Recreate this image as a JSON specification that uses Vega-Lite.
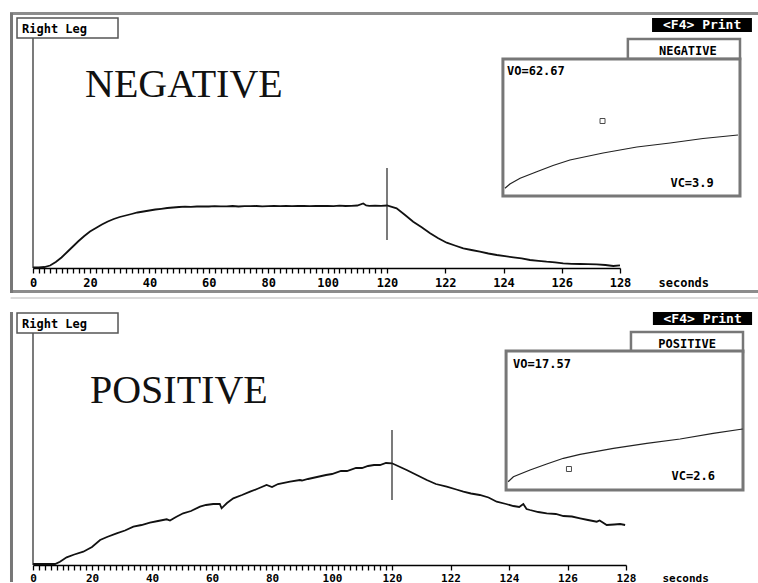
{
  "$schema": "https://vega.github.io/schema/vega-lite/v6.json",
  "padding": 0,
  "bounds": "flush",
  "spacing": 4,
  "background": "white",
  "config": {"view": {"stroke": null}},
  "datasets": {
    "neg": [
      {"t":0,"v":0.05},{"t":2,"v":0.05},{"t":4,"v":0.1},{"t":6,"v":0.25},{"t":8,"v":0.6},{"t":10,"v":1.05},{"t":12,"v":1.6},{"t":14,"v":2.15},{"t":16,"v":2.7},{"t":18,"v":3.2},{"t":20,"v":3.65},{"t":22,"v":4.0},{"t":24,"v":4.35},{"t":26,"v":4.65},{"t":28,"v":4.9},{"t":30,"v":5.1},{"t":32,"v":5.25},{"t":34,"v":5.4},{"t":36,"v":5.55},{"t":38,"v":5.65},{"t":40,"v":5.75},{"t":42,"v":5.85},{"t":44,"v":5.92},{"t":46,"v":6.0},{"t":48,"v":6.05},{"t":50,"v":6.1},{"t":52,"v":6.13},{"t":54,"v":6.12},{"t":56,"v":6.15},{"t":58,"v":6.16},{"t":60,"v":6.15},{"t":62,"v":6.18},{"t":64,"v":6.16},{"t":66,"v":6.17},{"t":68,"v":6.2},{"t":70,"v":6.15},{"t":72,"v":6.19},{"t":74,"v":6.18},{"t":76,"v":6.2},{"t":78,"v":6.17},{"t":80,"v":6.19},{"t":82,"v":6.2},{"t":84,"v":6.18},{"t":86,"v":6.21},{"t":88,"v":6.18},{"t":90,"v":6.2},{"t":92,"v":6.22},{"t":94,"v":6.18},{"t":96,"v":6.21},{"t":98,"v":6.2},{"t":100,"v":6.22},{"t":102,"v":6.19},{"t":104,"v":6.23},{"t":106,"v":6.2},{"t":108,"v":6.22},{"t":110,"v":6.25},{"t":112,"v":6.45},{"t":113,"v":6.25},{"t":114,"v":6.22},{"t":116,"v":6.24},{"t":118,"v":6.22},{"t":120,"v":6.25},
      {"t":120.33,"v":5.97},{"t":120.62,"v":5.3},{"t":120.9,"v":4.63},{"t":121.19,"v":4.07},{"t":121.48,"v":3.47},{"t":121.76,"v":2.97},{"t":122.05,"v":2.53},{"t":122.33,"v":2.25},{"t":122.62,"v":1.97},{"t":122.9,"v":1.8},{"t":123.19,"v":1.63},{"t":123.48,"v":1.45},{"t":123.77,"v":1.3},{"t":124.05,"v":1.18},{"t":124.34,"v":1.07},{"t":124.62,"v":0.97},{"t":124.91,"v":0.8},{"t":125.2,"v":0.72},{"t":125.48,"v":0.63},{"t":125.77,"v":0.56},{"t":126.05,"v":0.47},{"t":126.34,"v":0.42},{"t":126.63,"v":0.4},{"t":126.9,"v":0.38},{"t":127.2,"v":0.37},{"t":127.5,"v":0.3},{"t":127.77,"v":0.2},{"t":128.0,"v":0.27}
    ],
    "pos": [
      {"t":0,"v":0.1},{"t":2,"v":0.1},{"t":4,"v":0.12},{"t":6,"v":0.1},{"t":7.5,"v":0.1},{"t":9.15,"v":0.33},{"t":11.4,"v":0.77},{"t":14,"v":1.05},{"t":17.05,"v":1.33},{"t":20,"v":1.8},{"t":22.7,"v":2.5},{"t":25,"v":2.8},{"t":28.2,"v":3.17},{"t":31,"v":3.45},{"t":33.8,"v":3.83},{"t":36.5,"v":4.0},{"t":39.3,"v":4.23},{"t":42,"v":4.4},{"t":44.9,"v":4.57},{"t":46,"v":4.45},{"t":48,"v":4.8},{"t":50.4,"v":5.17},{"t":53,"v":5.4},{"t":56,"v":5.83},{"t":58,"v":6.0},{"t":60.4,"v":6.1},{"t":62.6,"v":6.1},{"t":63.2,"v":5.67},{"t":65,"v":6.2},{"t":67.1,"v":6.67},{"t":70,"v":7.0},{"t":72.7,"v":7.33},{"t":75,"v":7.6},{"t":78.2,"v":8.0},{"t":80,"v":7.8},{"t":82,"v":8.1},{"t":86,"v":8.33},{"t":89.3,"v":8.5},{"t":90,"v":8.45},{"t":92,"v":8.6},{"t":95,"v":8.8},{"t":98,"v":9.0},{"t":100,"v":9.1},{"t":103,"v":9.4},{"t":105,"v":9.4},{"t":108,"v":9.7},{"t":110,"v":9.7},{"t":112,"v":9.9},{"t":114,"v":10.0},{"t":116,"v":10.0},{"t":118,"v":10.2},{"t":120,"v":10.17},
      {"t":120.5,"v":9.5},{"t":121.19,"v":8.5},{"t":121.5,"v":8.1},{"t":121.87,"v":7.83},{"t":122.2,"v":7.55},{"t":122.44,"v":7.33},{"t":122.7,"v":7.15},{"t":123.0,"v":7.0},{"t":123.3,"v":6.75},{"t":123.58,"v":6.33},{"t":123.9,"v":6.1},{"t":124.15,"v":5.9},{"t":124.35,"v":5.8},{"t":124.49,"v":6.1},{"t":124.6,"v":5.6},{"t":124.72,"v":5.5},{"t":125.0,"v":5.3},{"t":125.29,"v":5.17},{"t":125.6,"v":5.1},{"t":125.86,"v":4.9},{"t":126.15,"v":4.85},{"t":126.43,"v":4.67},{"t":126.7,"v":4.5},{"t":127.0,"v":4.33},{"t":127.1,"v":4.45},{"t":127.34,"v":4.0},{"t":127.6,"v":4.05},{"t":127.8,"v":4.1},{"t":127.97,"v":4.0}
    ],
    "negInset": [
      {"t":124.05,"v":7.97},{"t":124.22,"v":8.4},{"t":124.57,"v":8.97},{"t":125.14,"v":9.63},{"t":125.7,"v":10.25},{"t":126.28,"v":10.8},{"t":127.42,"v":11.5},{"t":128.58,"v":12.1},{"t":129.72,"v":12.5},{"t":130.85,"v":12.95},{"t":132.05,"v":13.3}
    ],
    "posInset": [
      {"t":123.97,"v":8.33},{"t":124.15,"v":8.83},{"t":124.72,"v":9.5},{"t":125.29,"v":10.1},{"t":125.86,"v":10.67},{"t":126.43,"v":11.07},{"t":127.57,"v":11.67},{"t":128.71,"v":12.17},{"t":129.85,"v":12.6},{"t":130.98,"v":13.17},{"t":131.99,"v":13.6}
    ]
  },
  "vconcat": [
    {
      "width": 758,
      "height": 293,
      "resolve": {"axis": {"x": "independent", "y": "independent"}},
      "layer": [
        {"data": {"values": [{}]}, "mark": {"type": "rule", "color": "#8c8c8c", "strokeWidth": 3},
          "encoding": {"x": {"datum": -8.07, "type": "quantitative", "axis": null}, "x2": {"datum": 132.74}, "y": {"datum": 25.45, "type": "quantitative", "axis": null}}},
        {"data": {"values": [{}]}, "mark": {"type": "rule", "color": "#8c8c8c", "strokeWidth": 3},
          "encoding": {"x": {"datum": -8.07, "type": "quantitative", "axis": null}, "x2": {"datum": 132.74}, "y": {"datum": -2.35, "type": "quantitative", "axis": null}}},
        {"data": {"values": [{}]}, "mark": {"type": "rule", "color": "#777", "strokeWidth": 3},
          "encoding": {"x": {"datum": -7.54, "type": "quantitative", "axis": null}, "y": {"datum": 25.5, "type": "quantitative", "axis": null}, "y2": {"datum": -2.5}}},
        {
          "data": {"name": "neg"},
          "mark": {"type": "line", "color": "#111", "strokeWidth": 1.8},
          "encoding": {
            "x": {"field": "t", "type": "quantitative",
              "scale": {"domain": [0, 20, 120, 128], "range": [33, 90, 387, 620], "nice": false, "zero": false},
              "axis": {"values": [0,2,4,6,8,10,12,14,16,18,20,22,24,26,28,30,32,34,36,38,40,42,44,46,48,50,52,54,56,58,60,62,64,66,68,70,72,74,76,78,80,82,84,86,88,90,92,94,96,98,100,102,104,106,108,110,112,114,116,118,120,122,124,126,128],
                "labelExpr": "datum.value % 20 == 0 || datum.value > 120 ? datum.label : ''",
                "offset": -25, "grid": false, "tickSize": 5, "tickColor": "#000", "tickWidth": 1.3,
                "domainColor": "#000", "domainWidth": 1.5,
                "labelFont": "DejaVu Sans Mono", "labelFontWeight": "bold", "labelFontSize": 12, "labelColor": "#000",
                "labelPadding": 4, "labelFlush": false, "labelOverlap": false, "labelBound": false,
                "title": "seconds", "titleX": 658, "titleY": 9, "titleAlign": "left", "titleBaseline": "top", "titleAngle": 0,
                "titleFont": "DejaVu Sans Mono", "titleFontWeight": "bold", "titleFontSize": 12, "titleColor": "#000"}},
            "y": {"field": "v", "type": "quantitative", "scale": {"domain": [-2.5, 26.8], "nice": false, "zero": false}, "axis": null}
          }
        },
        {"data": {"values": [{}]}, "mark": {"type": "rule", "color": "#222", "strokeWidth": 1.2},
          "encoding": {"x": {"datum": 0, "type": "quantitative", "axis": null}, "y": {"datum": 0, "type": "quantitative", "axis": null}, "y2": {"datum": 23.0}}},
        {"data": {"values": [{}]}, "mark": {"type": "rect", "fill": "white", "stroke": "#555", "strokeWidth": 1.5},
          "encoding": {"x": {"datum": -5.61, "type": "quantitative", "axis": null}, "x2": {"datum": 29.43}, "y": {"datum": 25.0, "type": "quantitative", "axis": null}, "y2": {"datum": 23.0}}},
        {"data": {"values": [{}]}, "mark": {"type": "text", "text": "Right Leg", "align": "left", "baseline": "alphabetic", "font": "DejaVu Sans Mono", "fontWeight": "bold", "fontSize": 12, "color": "#000"},
          "encoding": {"x": {"datum": -3.86, "type": "quantitative", "axis": null}, "y": {"datum": 23.5, "type": "quantitative", "axis": null}}},
        {"data": {"values": [{}]}, "mark": {"type": "text", "text": "NEGATIVE", "align": "left", "baseline": "alphabetic", "font": "Liberation Serif", "fontSize": 40, "color": "#111"},
          "encoding": {"x": {"datum": 18.25, "type": "quantitative", "axis": null}, "y": {"datum": 17.1, "type": "quantitative", "axis": null}}},
        {"data": {"values": [{}]}, "mark": {"type": "rule", "color": "#222", "strokeWidth": 1.2},
          "encoding": {"x": {"datum": 120, "type": "quantitative", "axis": null}, "y": {"datum": 10.0, "type": "quantitative", "axis": null}, "y2": {"datum": 2.8}}},
        {"data": {"values": [{}]}, "mark": {"type": "rect", "fill": "#000"},
          "encoding": {"x": {"datum": 129.1, "type": "quantitative", "axis": null}, "x2": {"datum": 132.53}, "y": {"datum": 25.0, "type": "quantitative", "axis": null}, "y2": {"datum": 23.6}}},
        {"data": {"values": [{}]}, "mark": {"type": "text", "text": "<F4> Print", "align": "center", "baseline": "alphabetic", "font": "DejaVu Sans Mono", "fontWeight": "bold", "fontSize": 13, "color": "white"},
          "encoding": {"x": {"datum": 130.82, "type": "quantitative", "axis": null}, "y": {"datum": 23.9, "type": "quantitative", "axis": null}}},
        {"data": {"values": [{}]}, "mark": {"type": "rect", "fill": "white", "stroke": "#777", "strokeWidth": 2.5},
          "encoding": {"x": {"datum": 128.27, "type": "quantitative", "axis": null}, "x2": {"datum": 132.12}, "y": {"datum": 22.9, "type": "quantitative", "axis": null}, "y2": {"datum": 20.9}}},
        {"data": {"values": [{}]}, "mark": {"type": "text", "text": "NEGATIVE", "align": "center", "baseline": "alphabetic", "font": "DejaVu Sans Mono", "fontWeight": "bold", "fontSize": 12, "color": "#000"},
          "encoding": {"x": {"datum": 130.33, "type": "quantitative", "axis": null}, "y": {"datum": 21.3, "type": "quantitative", "axis": null}}},
        {"data": {"values": [{}]}, "mark": {"type": "rect", "fill": "white", "stroke": "#777", "strokeWidth": 3},
          "encoding": {"x": {"datum": 123.98, "type": "quantitative", "axis": null}, "x2": {"datum": 132.12}, "y": {"datum": 20.9, "type": "quantitative", "axis": null}, "y2": {"datum": 7.2}}},
        {"data": {"values": [{}]}, "mark": {"type": "text", "text": "VO=62.67", "align": "left", "baseline": "alphabetic", "font": "DejaVu Sans Mono", "fontWeight": "bold", "fontSize": 12, "color": "#000"},
          "encoding": {"x": {"datum": 124.12, "type": "quantitative", "axis": null}, "y": {"datum": 19.3, "type": "quantitative", "axis": null}}},
        {"data": {"values": [{}]}, "mark": {"type": "text", "text": "VC=3.9", "align": "right", "baseline": "alphabetic", "font": "DejaVu Sans Mono", "fontWeight": "bold", "fontSize": 12, "color": "#000"},
          "encoding": {"x": {"datum": 131.22, "type": "quantitative", "axis": null}, "y": {"datum": 8.1, "type": "quantitative", "axis": null}}},
        {"data": {"values": [{}]}, "mark": {"type": "point", "shape": "square", "size": 25, "filled": false, "color": "#000", "strokeWidth": 1},
          "encoding": {"x": {"datum": 127.4, "type": "quantitative", "axis": null}, "y": {"datum": 14.7, "type": "quantitative", "axis": null}}},
        {"data": {"name": "negInset"}, "mark": {"type": "line", "color": "#222", "strokeWidth": 1.2},
          "encoding": {"x": {"field": "t", "type": "quantitative", "axis": null}, "y": {"field": "v", "type": "quantitative", "axis": null}}}
      ]
    },
    {
      "width": 758,
      "height": 285,
      "resolve": {"axis": {"x": "independent", "y": "independent"}},
      "layer": [
        {"data": {"values": [{}]}, "mark": {"type": "rule", "color": "#cfcfcf", "strokeWidth": 1.5},
          "encoding": {"x": {"datum": -7.6, "type": "quantitative", "axis": null}, "x2": {"datum": 132.6}, "y": {"datum": 26.7, "type": "quantitative", "axis": null}}},
        {"data": {"values": [{}]}, "mark": {"type": "rule", "color": "#777", "strokeWidth": 3},
          "encoding": {"x": {"datum": -7.29, "type": "quantitative", "axis": null}, "y": {"datum": 25.3, "type": "quantitative", "axis": null}, "y2": {"datum": -1.7}}},
        {
          "data": {"name": "pos"},
          "mark": {"type": "line", "color": "#111", "strokeWidth": 1.8},
          "encoding": {
            "x": {"field": "t", "type": "quantitative",
              "scale": {"domain": [0, 20, 120, 128], "range": [33, 92, 392, 626], "nice": false, "zero": false},
              "axis": {"values": [0,2,4,6,8,10,12,14,16,18,20,22,24,26,28,30,32,34,36,38,40,42,44,46,48,50,52,54,56,58,60,62,64,66,68,70,72,74,76,78,80,82,84,86,88,90,92,94,96,98,100,102,104,106,108,110,112,114,116,118,120,122,124,126,128],
                "labelExpr": "datum.value % 20 == 0 || datum.value > 120 ? datum.label : ''",
                "offset": -17, "grid": false, "tickSize": 5, "tickColor": "#000", "tickWidth": 1.3,
                "domainColor": "#000", "domainWidth": 1.5,
                "labelFont": "DejaVu Sans Mono", "labelFontWeight": "bold", "labelFontSize": 11, "labelColor": "#000",
                "labelPadding": 2, "labelFlush": false, "labelOverlap": false, "labelBound": false,
                "title": "seconds", "titleX": 662, "titleY": 7, "titleAlign": "left", "titleBaseline": "top", "titleAngle": 0,
                "titleFont": "DejaVu Sans Mono", "titleFontWeight": "bold", "titleFontSize": 11, "titleColor": "#000"}},
            "y": {"field": "v", "type": "quantitative", "scale": {"domain": [-1.7, 26.8], "nice": false, "zero": false}, "axis": null}
          }
        },
        {"data": {"values": [{}]}, "mark": {"type": "rule", "color": "#222", "strokeWidth": 1.2},
          "encoding": {"x": {"datum": 0, "type": "quantitative", "axis": null}, "y": {"datum": 0, "type": "quantitative", "axis": null}, "y2": {"datum": 23.2}}},
        {"data": {"values": [{}]}, "mark": {"type": "rect", "fill": "white", "stroke": "#555", "strokeWidth": 1.5},
          "encoding": {"x": {"datum": -5.42, "type": "quantitative", "axis": null}, "x2": {"datum": 28.67}, "y": {"datum": 25.2, "type": "quantitative", "axis": null}, "y2": {"datum": 23.2}}},
        {"data": {"values": [{}]}, "mark": {"type": "text", "text": "Right Leg", "align": "left", "baseline": "alphabetic", "font": "DejaVu Sans Mono", "fontWeight": "bold", "fontSize": 12, "color": "#000"},
          "encoding": {"x": {"datum": -3.73, "type": "quantitative", "axis": null}, "y": {"datum": 23.7, "type": "quantitative", "axis": null}}},
        {"data": {"values": [{}]}, "mark": {"type": "text", "text": "POSITIVE", "align": "left", "baseline": "alphabetic", "font": "Liberation Serif", "fontSize": 40, "color": "#111"},
          "encoding": {"x": {"datum": 19.3, "type": "quantitative", "axis": null}, "y": {"datum": 16.2, "type": "quantitative", "axis": null}}},
        {"data": {"values": [{}]}, "mark": {"type": "rule", "color": "#222", "strokeWidth": 1.2},
          "encoding": {"x": {"datum": 120, "type": "quantitative", "axis": null}, "y": {"datum": 13.5, "type": "quantitative", "axis": null}, "y2": {"datum": 6.5}}},
        {"data": {"values": [{}]}, "mark": {"type": "rect", "fill": "#000"},
          "encoding": {"x": {"datum": 128.92, "type": "quantitative", "axis": null}, "x2": {"datum": 132.31}, "y": {"datum": 25.3, "type": "quantitative", "axis": null}, "y2": {"datum": 24.0}}},
        {"data": {"values": [{}]}, "mark": {"type": "text", "text": "<F4> Print", "align": "center", "baseline": "alphabetic", "font": "DejaVu Sans Mono", "fontWeight": "bold", "fontSize": 13, "color": "white"},
          "encoding": {"x": {"datum": 130.62, "type": "quantitative", "axis": null}, "y": {"datum": 24.2, "type": "quantitative", "axis": null}}},
        {"data": {"values": [{}]}, "mark": {"type": "rect", "fill": "white", "stroke": "#777", "strokeWidth": 2.5},
          "encoding": {"x": {"datum": 128.17, "type": "quantitative", "axis": null}, "x2": {"datum": 132.0}, "y": {"datum": 23.3, "type": "quantitative", "axis": null}, "y2": {"datum": 21.3}}},
        {"data": {"values": [{}]}, "mark": {"type": "text", "text": "POSITIVE", "align": "center", "baseline": "alphabetic", "font": "DejaVu Sans Mono", "fontWeight": "bold", "fontSize": 12, "color": "#000"},
          "encoding": {"x": {"datum": 130.09, "type": "quantitative", "axis": null}, "y": {"datum": 21.7, "type": "quantitative", "axis": null}}},
        {"data": {"values": [{}]}, "mark": {"type": "rect", "fill": "white", "stroke": "#777", "strokeWidth": 3},
          "encoding": {"x": {"datum": 123.9, "type": "quantitative", "axis": null}, "x2": {"datum": 132.0}, "y": {"datum": 21.4, "type": "quantitative", "axis": null}, "y2": {"datum": 7.5}}},
        {"data": {"values": [{}]}, "mark": {"type": "text", "text": "VO=17.57", "align": "left", "baseline": "alphabetic", "font": "DejaVu Sans Mono", "fontWeight": "bold", "fontSize": 12, "color": "#000"},
          "encoding": {"x": {"datum": 124.14, "type": "quantitative", "axis": null}, "y": {"datum": 19.7, "type": "quantitative", "axis": null}}},
        {"data": {"values": [{}]}, "mark": {"type": "text", "text": "VC=2.6", "align": "right", "baseline": "alphabetic", "font": "DejaVu Sans Mono", "fontWeight": "bold", "fontSize": 12, "color": "#000"},
          "encoding": {"x": {"datum": 131.04, "type": "quantitative", "axis": null}, "y": {"datum": 8.5, "type": "quantitative", "axis": null}}},
        {"data": {"values": [{}]}, "mark": {"type": "point", "shape": "square", "size": 25, "filled": false, "color": "#000", "strokeWidth": 1},
          "encoding": {"x": {"datum": 126.05, "type": "quantitative", "axis": null}, "y": {"datum": 9.6, "type": "quantitative", "axis": null}}},
        {"data": {"name": "posInset"}, "mark": {"type": "line", "color": "#222", "strokeWidth": 1.2},
          "encoding": {"x": {"field": "t", "type": "quantitative", "axis": null}, "y": {"field": "v", "type": "quantitative", "axis": null}}}
      ]
    }
  ]
}
